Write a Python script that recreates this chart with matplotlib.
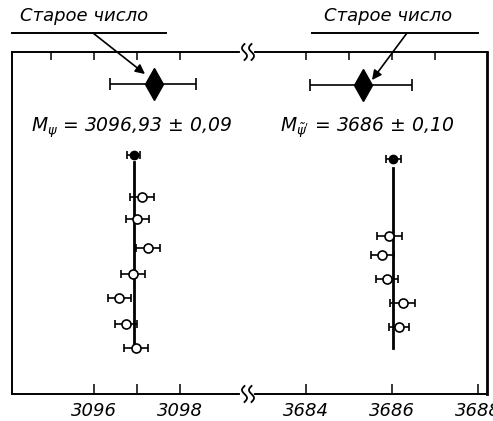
import matplotlib.pyplot as plt
import numpy as np

plt.rcParams['font.family'] = 'DejaVu Sans'
plt.rcParams['font.style'] = 'italic'
plt.rcParams['mathtext.fontset'] = 'dejavusans'
plt.rcParams['mathtext.default'] = 'it'

# psi(3097): world average, individual measurements, old value
psi_avg = 3096.93
psi_avg_err = 0.15
psi_avg_row = 3.0
psi_line_rows = [3.21, 8.71]
psi_x = [3097.12, 3097.01, 3097.26, 3096.91, 3096.59, 3096.74, 3096.98]
psi_err = [0.28, 0.27, 0.28, 0.27, 0.26, 0.26, 0.27]
psi_rows = [4.23, 4.89, 5.72, 6.50, 7.20, 7.95, 8.65]
psi_old = 3097.40
psi_old_lo = 3096.37
psi_old_hi = 3098.37
psi_old_row = 0.94

# psi'(3686)
psip_avg = 3686.03
psip_avg_err = 0.17
psip_avg_row = 3.13
psip_line_rows = [3.38, 8.66]
psip_x = [3685.93, 3685.77, 3685.88, 3686.25, 3686.16]
psip_err = [0.29, 0.27, 0.25, 0.29, 0.23]
psip_rows = [5.38, 5.94, 6.65, 7.33, 8.05]
psip_old = 3685.33
psip_old_lo = 3684.08
psip_old_hi = 3686.46
psip_old_row = 0.96

W, H = 493, 421
fig = plt.figure(figsize=(W / 100, H / 100), dpi=100)
x0, xb, x1 = 12, 249, 487
yt, yb = 52, 394
axL = fig.add_axes([x0 / W, 1 - yb / H, (xb - x0) / W, (yb - yt) / H])
axR = fig.add_axes([xb / W, 1 - yb / H, (x1 - xb) / W, (yb - yt) / H])

axL.set_xlim(3094.1, 3099.6)
axR.set_xlim(3682.67, 3688.21)
for ax in (axL, axR):
    ax.set_ylim(10, 0)
    ax.set_yticks([])
    ax.patch.set_alpha(0)
    for s in ax.spines.values():
        s.set_linewidth(1.4)
        s.set_color('black')
    ax.tick_params(axis='x', which='both', direction='in', length=7,
                   width=1.1, top=True, labelsize=13, pad=6)
axL.spines['right'].set_visible(False)
axR.spines['left'].set_visible(False)
axR.spines['right'].set_linewidth(2.0)

# bottom ticks (major) and top ticks via secondary axis
axL.set_xticks([3096, 3097, 3098])
axL.set_xticklabels(['3096', '', '3098'])
axR.set_xticks([3684, 3686, 3688])
axR.set_xticklabels(['3684', '3686', '3688'])
axL.tick_params(top=False)
axR.tick_params(top=False)
topL = axL.secondary_xaxis('top')
topL.set_xticks([3095, 3096, 3097, 3098])
topL.set_xticklabels([])
topL.tick_params(direction='in', length=6, width=1.1)
topL.spines['top'].set_visible(False)
topR = axR.secondary_xaxis('top')
topR.set_xticks([3684, 3685, 3686, 3687])
topR.set_xticklabels([])
topR.tick_params(direction='in', length=6, width=1.1)
topR.spines['top'].set_visible(False)
for lab in axL.get_xticklabels() + axR.get_xticklabels():
    lab.set_fontstyle('italic')
for lab in axR.get_xticklabels():
    lab.set_clip_on(False)


def draw_group(ax, avg, avg_err, avg_row, line_rows, xs, errs, rows,
               old, lo, hi, old_row):
    ax.plot([avg, avg], line_rows, color='black', lw=2.0, zorder=2)
    ax.errorbar(avg, avg_row, xerr=avg_err, fmt='o', color='black',
                ms=6, capsize=3, elinewidth=1.2, capthick=1.2, zorder=3)
    ax.errorbar(xs, rows, xerr=errs, fmt='o', mfc='white', mec='black',
                color='black', ms=6.5, mew=1.2, capsize=3, elinewidth=1.2,
                capthick=1.2, zorder=3)
    ax.errorbar(old, old_row, xerr=[[old - lo], [hi - old]], fmt='none',
                ecolor='black', capsize=4, elinewidth=1.2, capthick=1.2)
    ax.plot(old, old_row, marker='d', ms=16, color='black', zorder=4)


draw_group(axL, psi_avg, psi_avg_err, psi_avg_row, psi_line_rows, psi_x,
           psi_err, psi_rows, psi_old, psi_old_lo, psi_old_hi, psi_old_row)
draw_group(axR, psip_avg, psip_avg_err, psip_avg_row, psip_line_rows, psip_x,
           psip_err, psip_rows, psip_old, psip_old_lo, psip_old_hi,
           psip_old_row)

fig.text(131 / W, 1 - 128 / H, r'$M_{\psi}$ = 3096,93 ± 0,09',
         ha='center', va='center', fontsize=13.5, style='italic')
fig.text(367 / W, 1 - 128 / H, r"$M_{\tilde{\psi}'}$ = 3686 ± 0,10",
         ha='center', va='center', fontsize=13.5, style='italic')

# "old number" labels with underline and arrow
for tx, (ux0, ux1), (ax0_, ay0_), (ax1_, ay1_) in [
        (84, (12, 166), (93, 33), (145, 74)),
        (388, (312, 478), (407, 33), (372, 80))]:
    fig.text(tx / W, 1 - 16 / H, 'Старое число', ha='center', va='center',
             fontsize=13, style='italic')
    fig.add_artist(plt.Line2D([ux0 / W, ux1 / W], [1 - 33 / H, 1 - 33 / H],
                              color='black', lw=1.4))
    fig.add_artist(plt.Line2D([], []))
    axL.annotate('', xy=(ax1_, H - ay1_), xycoords='figure pixels',
                 xytext=(ax0_, H - ay0_), textcoords='figure pixels',
                 arrowprops=dict(arrowstyle='-|>', color='black', lw=1.2,
                                 mutation_scale=14, shrinkA=0, shrinkB=0),
                 annotation_clip=False)

# axis break squiggles
t = np.linspace(-1, 1, 50)
for yc in (yt, yb):
    fig.add_artist(plt.Line2D([242 / W, 252 / W], [1 - yc / H, 1 - yc / H],
                              color='white', lw=3))
    for xc in (244.5, 251.5):
        xs_ = xc + 2.5 * np.sin(np.pi * t)
        ys_ = yc + 8 * t
        fig.add_artist(plt.Line2D(xs_ / W, 1 - ys_ / H, color='black', lw=1.3))

fig.savefig('out.png', dpi=100)
